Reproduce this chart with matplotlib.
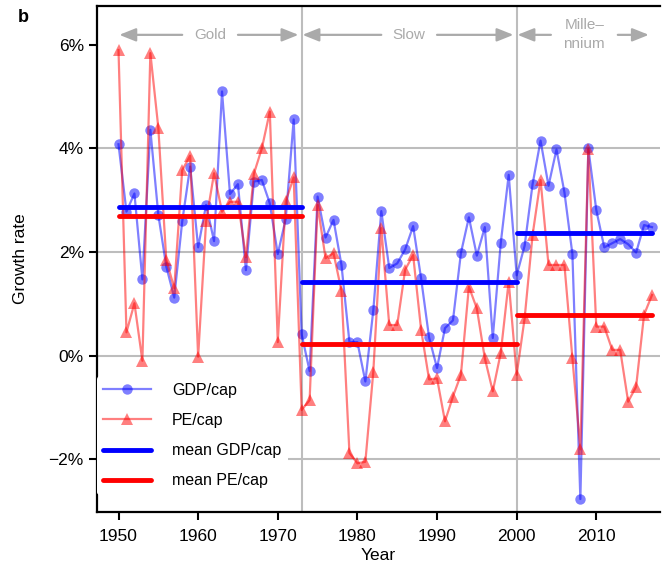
import matplotlib
matplotlib.use("Agg")
import matplotlib.pyplot as plt

plt.rcParams['font.family'] = ['Liberation Sans', 'DejaVu Sans']

# growth rates in percent, one value per year
years = list(range(1950, 2018))
gdp_cap = [4.08, 2.78, 3.13, 1.47, 4.36, 2.72, 1.72, 1.12, 2.59, 3.65,
           2.09, 2.91, 2.21, 5.10, 3.12, 3.31, 1.65, 3.36, 3.39, 2.94,
           1.96, 2.64, 4.56, 0.41, -0.30, 3.07, 2.28, 2.62, 1.75, 0.26,
           0.26, -0.50, 0.88, 2.79, 1.69, 1.78, 2.05, 2.50, 1.49, 0.35,
           -0.24, 0.53, 0.68, 1.98, 2.67, 1.93, 2.48, 0.34, 2.17, 3.49,
           1.55, 2.12, 3.31, 4.15, 3.28, 3.98, 3.15, 1.96, -2.77, 4.00,
           2.81, 2.09, 2.17, 2.25, 2.15, 1.99, 2.52, 2.48]
pe_cap = [5.90, 0.45, 1.01, -0.10, 5.84, 4.40, 1.85, 1.30, 3.58, 3.86,
          -0.02, 2.59, 3.52, 2.78, 2.97, 2.97, 1.90, 3.51, 4.00, 4.71,
          0.26, 2.98, 3.44, -1.05, -0.86, 2.91, 1.88, 1.98, 1.25, -1.88,
          -2.08, -2.05, -0.31, 2.46, 0.59, 0.59, 1.66, 1.94, 0.50, -0.46,
          -0.44, -1.27, -0.79, -0.37, 1.33, 0.91, -0.05, -0.69, 0.05, 1.43,
          -0.37, 0.72, 2.33, 3.39, 1.75, 1.75, 1.75, -0.05, -1.81, 3.98,
          0.56, 0.56, 0.11, 0.11, -0.89, -0.60, 0.79, 1.17]

# periods and their means
period_names = ['Gold', 'Slow', 'Mille\u2013\nnnium']
period_start = [1950, 1973, 2000]
period_end = [1973, 2000, 2017]
mean_gdp = [2.86, 1.43, 2.36]
mean_pe = [2.70, 0.23, 0.79]
arrow_gap = [3.5, 3.5, 4.2]

yticks = [-2, 0, 2, 4, 6]
ytick_labels = ['\u22122%', '0%', '2%', '4%', '6%']
xticks = [1950, 1960, 1970, 1980, 1990, 2000, 2010]

fig = plt.figure(figsize=(6.65, 5.65), dpi=100)
ax = fig.add_axes([97 / 665, 1 - 512 / 565, 563 / 665, 506 / 565])

grid_col = '#bdbdbd'
for y in [-2, 0, 2, 4]:
    ax.axhline(y, color=grid_col, lw=1.5, zorder=0)
for x in period_start[1:]:
    ax.axvline(x, color=grid_col, lw=1.5, zorder=0)

ax.plot(years, gdp_cap, '-o', color='blue', alpha=0.5, lw=1.6,
        ms=7.5, mew=0, label='GDP/cap', zorder=3)
ax.plot(years, pe_cap, '-^', color='red', alpha=0.5, lw=1.6,
        ms=9, mew=0, label='PE/cap', zorder=3)

for i in range(len(period_start)):
    ax.plot([period_start[i], period_end[i]], [mean_gdp[i], mean_gdp[i]],
            color='blue', lw=3.5, solid_capstyle='round', zorder=4,
            label='mean GDP/cap' if i == 0 else None)
    ax.plot([period_start[i], period_end[i]], [mean_pe[i], mean_pe[i]],
            color='red', lw=3.5, solid_capstyle='round', zorder=4,
            label='mean PE/cap' if i == 0 else None)

# period labels with arrows along the top
trans = ax.get_xaxis_transform()
lab_y = 0.943
arrow_col = '#aaaaaa'
for name, s, e, g in zip(period_names, period_start, period_end, arrow_gap):
    mid = (s + e) / 2
    ax.text(mid, lab_y, name, transform=trans, ha='center', va='center',
            color=arrow_col, fontsize=11, linespacing=1.45)
    for tail, head in [(mid - g, s + 0.1), (mid + g, e - 0.4)]:
        ax.annotate('', xy=(head, lab_y), xytext=(tail, lab_y),
                    xycoords=trans, textcoords=trans,
                    arrowprops=dict(arrowstyle='-|>,head_length=1.0,head_width=0.4',
                                    color=arrow_col, lw=1.6,
                                    shrinkA=0, shrinkB=0))

ax.set_xlim(1947.3, 2018.0)
ax.set_ylim(-3.02, 6.75)
ax.set_xticks(xticks)
ax.set_yticks(yticks)
ax.set_yticklabels(ytick_labels)
ax.tick_params(labelsize=12.5, width=1.5, length=6, colors='black')
ax.tick_params(axis='x', pad=6)

for side in ['left', 'bottom', 'top']:
    ax.spines[side].set_linewidth(1.6)
ax.spines['right'].set_visible(False)

ax.set_xlabel('Year', fontsize=12.5, labelpad=3)
ax.set_ylabel('Growth rate', fontsize=12.5, labelpad=15)

leg = ax.legend(loc='center left', bbox_to_anchor=(0.0, 0.151),
                fontsize=11.5, frameon=True, framealpha=1,
                edgecolor='none', facecolor='white', numpoints=1,
                handlelength=3.0, handletextpad=1.3, labelspacing=0.95,
                borderaxespad=0, borderpad=0.4)
leg.set_zorder(5)

fig.text(18 / 665, 1 - 18 / 565, 'b', fontsize=13, fontweight='bold',
         ha='left', va='center')

fig.savefig('out.png', dpi=100)
